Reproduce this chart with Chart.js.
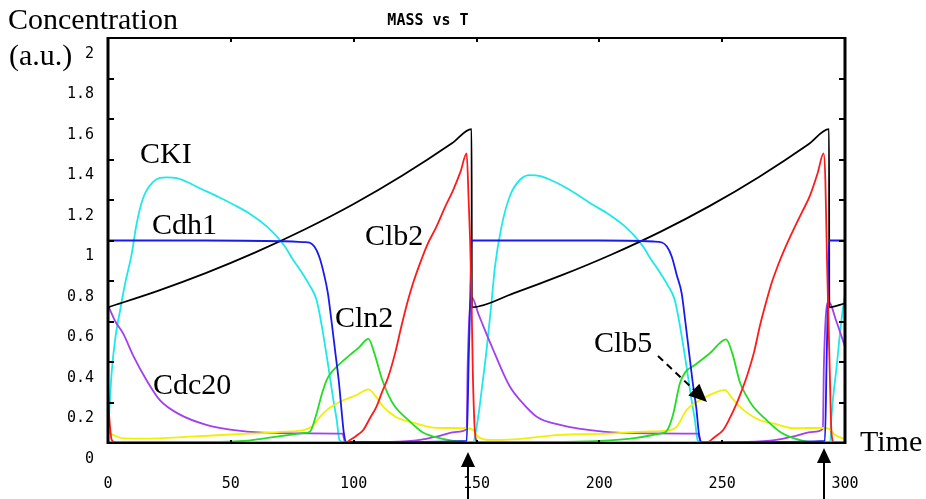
<!DOCTYPE html>
<html><head><meta charset="utf-8">
<script src="https://cdn.jsdelivr.net/npm/chart.js@4"></script>
<style>html,body{margin:0;padding:0;background:#fff;overflow:hidden}#wrap{width:926px;height:499px;position:relative}</style>
</head><body><div id="wrap"><canvas id="c" width="926" height="499"></canvas></div>
<script>
// ---- tick labels ----
const xTicks = [0, 50, 100, 150, 200, 250, 300];
const yTicks = [0, 0.2, 0.4, 0.6, 0.8, 1.0, 1.2, 1.4, 1.6, 1.8, 2.0];
const yTickLabels = ['0', '0.2', '0.4', '0.6', '0.8', '1', '1.2', '1.4', '1.6', '1.8', '2'];

// ---- series (time, value) ----
const massT = [0, 20, 40, 60, 80, 100, 120, 140, 148, 148.1, 165, 185, 205, 225, 245, 265, 285, 293.5, 293.6, 300];
const massV = [0.67, 0.75, 0.84, 0.941, 1.054, 1.18, 1.322, 1.48, 1.55, 0.67, 0.739, 0.83, 0.931, 1.044, 1.171, 1.314, 1.474, 1.55, 0.67, 0.69];

const cdh1T = [0, 40, 75, 80, 82, 84, 86, 88, 89.5, 91, 92.5, 94, 95, 96, 97, 120, 146, 146.8, 147.5, 148, 160, 200, 222,
  225.5, 227.5, 229.5, 231.5, 233.5, 235, 236.5, 238, 239.5, 240.5, 241.5, 242.5, 270, 291.8, 292.5, 293.1, 293.5, 300];
const cdh1V = [1.0, 1.0, 0.995, 0.992, 0.99, 0.97, 0.92, 0.83, 0.74, 0.6, 0.45, 0.3, 0.17, 0.05, 0.005, 0.005, 0.01, 0.4, 0.74, 1.0, 1.0, 1.0, 0.995,
  0.99, 0.97, 0.92, 0.83, 0.74, 0.6, 0.45, 0.3, 0.17, 0.05, 0.005, 0.003, 0.005, 0.01, 0.4, 0.74, 1.0, 1.0];

const ckiT = [0, 1.5, 3, 5, 7, 9.6, 11.6, 14.3, 18.4, 24, 28, 32, 37.4, 45, 51, 58, 64.6, 68.7, 72, 75.4, 79, 82, 84.9, 87, 89.7, 91.5, 93.1, 94.2, 96, 120, 148.5,
  150.7, 152.5, 154.1, 156, 157.5, 160.2, 163.6, 167.7, 171.8, 176, 180, 185, 190.8, 196.8, 203.8, 210.4, 214.5, 217.8, 221.2, 224.8, 227.8, 230.7, 232.8, 235.5, 237.3, 238.9, 240, 242, 270, 294,
  294.5, 296.6, 298.3, 300];
const ckiV = [0.05, 0.35, 0.52, 0.66, 0.79, 0.93, 1.08, 1.21, 1.29, 1.312, 1.308, 1.29, 1.258, 1.215, 1.178, 1.13, 1.07, 1.02, 0.97, 0.904, 0.84, 0.78, 0.706, 0.58, 0.377, 0.23, 0.114, 0.015, 0.003, 0.003, 0.003,
  0.13, 0.3, 0.46, 0.68, 0.87, 1.07, 1.22, 1.3, 1.323, 1.318, 1.3, 1.27, 1.228, 1.18, 1.13, 1.07, 1.02, 0.97, 0.904, 0.84, 0.78, 0.706, 0.58, 0.377, 0.23, 0.114, 0.015, 0.003, 0.003, 0.003,
  0.13, 0.377, 0.58, 0.74];

const cdc20T = [0, 3, 6.2, 10.3, 15.7, 21.2, 29.3, 40, 54, 67, 82, 95.5, 96.5, 115, 127, 135, 142, 146, 146.4, 148,
  151, 154, 157.5, 160.9, 164, 167.7, 174.5, 184, 201.5, 220, 240, 241.5, 260, 272, 280, 287, 291, 291.4, 293.3, 296.5, 300];
const cdc20V = [0.68, 0.6, 0.54, 0.43, 0.31, 0.21, 0.14, 0.09, 0.06, 0.05, 0.048, 0.046, 0.003, 0.005, 0.015, 0.035, 0.055, 0.07, 0.38, 0.72,
  0.63, 0.54, 0.44, 0.344, 0.27, 0.212, 0.13, 0.089, 0.056, 0.048, 0.046, 0.003, 0.005, 0.015, 0.035, 0.055, 0.07, 0.38, 0.70, 0.6, 0.476];

const cln2T = [0, 20, 40, 57, 65, 74, 80, 82.2, 84.9, 87, 89, 91, 93.1, 98.5, 102, 106, 108.5, 111.4, 114, 116.8, 122.2, 127.7, 133, 140, 148,
  160, 180, 200, 215, 222, 226, 227.5, 230, 232.8, 235, 238.9, 245, 251.6, 254.2, 257.2, 260, 262.6, 268, 273.5, 280, 286, 295, 300];
const cln2V = [0.005, 0.005, 0.005, 0.012, 0.025, 0.04, 0.05, 0.056, 0.146, 0.24, 0.311, 0.35, 0.377, 0.435, 0.47, 0.514, 0.44, 0.32, 0.24, 0.18, 0.114, 0.056, 0.03, 0.012, 0.005,
  0.005, 0.005, 0.01, 0.025, 0.04, 0.05, 0.06, 0.14, 0.295, 0.35, 0.385, 0.443, 0.512, 0.44, 0.3, 0.23, 0.18, 0.114, 0.056, 0.02, 0.005, 0.005, 0.005];

const clb5T = [0, 3, 6.2, 15, 33.4, 50, 60.5, 72, 79.5, 82.9, 85, 87.6, 91, 94.4, 98, 101.2, 106, 109, 112, 117, 121, 125.3, 133.5, 146, 148.7, 150.7, 155.5, 165,
  184, 200, 217.9, 228.8, 231.5, 235.5, 241, 246.4, 251.1, 253.5, 255.9, 259, 262.6, 266, 270.8, 279, 285, 291.1, 293.5, 296, 299.3, 300];
const clb5V = [0.056, 0.035, 0.023, 0.022, 0.031, 0.042, 0.048, 0.056, 0.064, 0.08, 0.11, 0.146, 0.18, 0.204, 0.222, 0.237, 0.265, 0.23, 0.18, 0.13, 0.11, 0.097, 0.075, 0.073, 0.064, 0.031, 0.015, 0.018,
  0.04, 0.045, 0.056, 0.064, 0.08, 0.163, 0.212, 0.245, 0.262, 0.23, 0.196, 0.16, 0.13, 0.11, 0.097, 0.073, 0.074, 0.074, 0.07, 0.04, 0.023, 0.02];

const clb2T = [0, 0.6, 1.5, 3, 60, 97, 98.5, 101, 103.9, 106.5, 109.3, 111.5, 114.1, 117, 119.5, 122, 124.2, 127, 130, 133.7, 137, 140.5, 143.5, 146, 146.8, 147.4, 148, 148.5, 149.4, 150.5,
  200, 243.7, 247, 250.4, 253, 255.9, 258, 260, 263, 265.4, 268, 270.1, 272.8, 275.5, 278.9, 282.5, 285.7, 288.8, 291.3, 292, 292.7, 293.3, 293.9, 294.5, 295.5, 300];
const clb2V = [0.237, 0.114, 0.015, 0.003, 0.003, 0.003, 0.015, 0.035, 0.064, 0.12, 0.18, 0.25, 0.327, 0.45, 0.58, 0.7, 0.79, 0.887, 0.98, 1.068, 1.16, 1.249, 1.34, 1.43, 1.2, 1.0, 0.7, 0.35, 0.05, 0.003,
  0.003, 0.003, 0.03, 0.064, 0.12, 0.196, 0.26, 0.327, 0.45, 0.58, 0.7, 0.789, 0.88, 0.96, 1.05, 1.14, 1.22, 1.33, 1.43, 1.3, 0.887, 0.6, 0.3, 0.05, 0.003, 0.003];

const pts = (t, v) => t.map((x, i) => ({ x, y: v[i] }));
const line = (label, t, v, color) => ({
  label, data: pts(t, v), borderColor: color, backgroundColor: color,
  borderWidth: 1.8, pointRadius: 0, cubicInterpolationMode: 'monotone', fill: false
});

const overlay = {
  id: 'overlay',
  afterDraw(chart) {
    const { ctx, chartArea: a, scales } = chart;
    const xs = scales.x, ys = scales.y;
    ctx.save();
    // frame
    ctx.strokeStyle = '#000';
    ctx.lineWidth = 2;
    ctx.beginPath();
    ctx.moveTo(a.left, a.top); ctx.lineTo(a.right, a.top);
    ctx.moveTo(a.left, a.bottom); ctx.lineTo(a.right, a.bottom);
    ctx.stroke();
    ctx.lineWidth = 3;
    ctx.beginPath();
    ctx.moveTo(a.left, a.top - 1); ctx.lineTo(a.left, a.bottom + 1);
    ctx.moveTo(a.right, a.top - 1); ctx.lineTo(a.right, a.bottom + 1);
    ctx.stroke();
    // inner ticks
    ctx.lineWidth = 2;
    ctx.beginPath();
    yTicks.forEach(v => {
      const y = Math.round(ys.getPixelForValue(v));
      ctx.moveTo(a.left, y); ctx.lineTo(a.left + 6, y);
      ctx.moveTo(a.right, y); ctx.lineTo(a.right - 6, y);
    });
    xTicks.forEach(v => {
      const x = Math.round(xs.getPixelForValue(v));
      ctx.moveTo(x, a.top); ctx.lineTo(x, a.top + 4);
      ctx.moveTo(x, a.bottom); ctx.lineTo(x, a.bottom - 3);
    });
    ctx.stroke();
    // title
    ctx.fillStyle = '#000';
    ctx.font = 'bold 15px "DejaVu Sans Mono"';
    ctx.textAlign = 'center'; ctx.textBaseline = 'middle';
    ctx.fillText('MASS vs T', 428, 21);
    // serif annotations
    ctx.font = '30px "Liberation Serif"';
    ctx.textAlign = 'left'; ctx.textBaseline = 'alphabetic';
    const labels = [
      ['Concentration', 8, 29], ['(a.u.)', 9, 65], ['CKI', 140, 163], ['Cdh1', 152, 234],
      ['Clb2', 365, 245], ['Cln2', 335, 327], ['Cdc20', 153, 394], ['Clb5', 594, 352], ['Time', 860, 451]
    ];
    labels.forEach(([s, x, y]) => ctx.fillText(s, x, y));
    // dashed arrow to Clb5
    const x0 = 658, y0 = 356, x1 = 707, y1 = 402;
    const ang = Math.atan2(y1 - y0, x1 - x0);
    const hl = 18, hw = 8;
    const bx = x1 - hl * Math.cos(ang), by = y1 - hl * Math.sin(ang);
    ctx.lineWidth = 2;
    ctx.setLineDash([7, 5]);
    ctx.beginPath(); ctx.moveTo(x0, y0); ctx.lineTo(bx, by); ctx.stroke();
    ctx.setLineDash([]);
    ctx.beginPath();
    ctx.moveTo(x1, y1);
    ctx.lineTo(bx + hw * Math.sin(ang), by - hw * Math.cos(ang));
    ctx.lineTo(bx - hw * Math.sin(ang), by + hw * Math.cos(ang));
    ctx.closePath(); ctx.fill();
    // vertical arrows (division events)
    [[468, 452], [824, 448]].forEach(([x, tip]) => {
      ctx.lineWidth = 2;
      ctx.beginPath(); ctx.moveTo(x, 499); ctx.lineTo(x, tip + 12); ctx.stroke();
      ctx.beginPath(); ctx.moveTo(x, tip); ctx.lineTo(x - 7, tip + 15); ctx.lineTo(x + 7, tip + 15); ctx.closePath(); ctx.fill();
    });
    ctx.restore();
  }
};

const tickFont = { family: '"DejaVu Sans Mono"', size: 15 };
new Chart(document.getElementById('c'), {
  type: 'line',
  data: {
    datasets: [
      line('Clb2', clb2T, clb2V, '#ff1a1a'),
      line('Cdh1', cdh1T, cdh1V, '#1a1aee'),
      line('Mass', massT, massV, '#000000'),
      line('Cln2', cln2T, cln2V, '#22dd22'),
      line('Clb5', clb5T, clb5V, '#f0f000'),
      line('Cdc20', cdc20T, cdc20V, '#a040f0'),
      line('CKI', ckiT, ckiV, '#1ee8e8')
    ]
  },
  options: {
    responsive: false, animation: false, devicePixelRatio: 1,
    layout: { padding: { left: 0, top: 38, right: 81, bottom: 0 } },
    plugins: { legend: { display: false }, title: { display: false }, tooltip: { enabled: false } },
    scales: {
      x: {
        type: 'linear', min: 0, max: 300,
        afterBuildTicks: s => { s.ticks = xTicks.map(v => ({ value: v })); },
        ticks: { font: tickFont, color: '#000', padding: 32, maxRotation: 0, autoSkip: false },
        grid: { display: false, drawTicks: false }, border: { display: false },
        afterFit: s => { s.height = 56; }
      },
      y: {
        type: 'linear', min: 0, max: 2,
        afterBuildTicks: s => { s.ticks = yTicks.map(v => ({ value: v })); },
        ticks: {
          font: tickFont, color: '#000', padding: 14, labelOffset: 16, autoSkip: false,
          callback: (v) => yTickLabels[yTicks.findIndex(t => Math.abs(t - v) < 1e-6)]
        },
        grid: { display: false, drawTicks: false }, border: { display: false },
        afterFit: s => { s.width = 108; }
      }
    }
  },
  plugins: [overlay]
});
</script>
</body></html>
